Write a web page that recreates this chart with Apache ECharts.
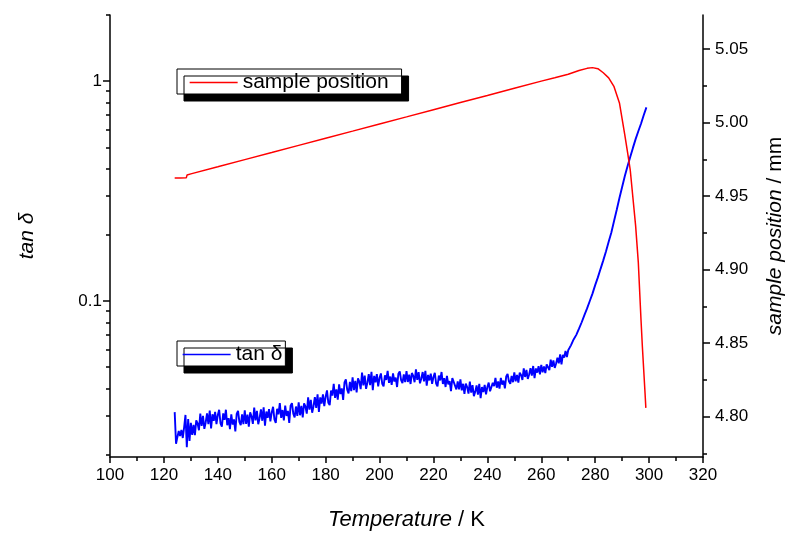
<!DOCTYPE html>
<html>
<head>
<meta charset="utf-8">
<script src="https://cdn.jsdelivr.net/npm/echarts@6/dist/echarts.min.js"></script>
<style>
html,body{margin:0;padding:0;background:#fff;}
#c{width:800px;height:534px;}
</style>
</head>
<body>
<div id="c"></div>
<script>
// ---- data ----
// tan delta (left log axis): [Temperature K, tan delta]
var tanDeltaPoints = [
[124,0.0312],[124.5,0.0224],[125,0.0240],[125.5,0.0256],[126,0.0243],[126.5,0.0259],[127,0.0238],[127.5,0.0266],
[128,0.0303],[128.5,0.0216],[129,0.0290],[129.5,0.0231],
[130,0.0279],[130.5,0.0246],[131,0.0273],[131.5,0.0245],[132,0.0286],[132.5,0.0277],[133,0.0258],[133.5,0.0307],
[134,0.0270],[134.5,0.0300],[135,0.0262],[135.5,0.0280],[136,0.0308],[136.5,0.0275],[137,0.0317],[137.5,0.0263],
[138,0.0305],[138.5,0.0285],[139,0.0313],[139.5,0.0275],[140,0.0303],[140.5,0.0320],[141,0.0277],[141.5,0.0268],
[142,0.0308],[142.5,0.0288],[143,0.0320],[143.5,0.0272],[144,0.0293],[144.5,0.0261],[145,0.0305],[145.5,0.0274],
[146,0.0289],[146.5,0.0255],[147,0.0306],[147.5,0.0316],[148,0.0282],[148.5,0.0272],[149,0.0305],[149.5,0.0275],
[150,0.0318],[150.5,0.0276],[151,0.0304],[151.5,0.0268],[152,0.0311],[152.5,0.0299],[153,0.0276],[153.5,0.0327],
[154,0.0286],[154.5,0.0316],[155,0.0275],[155.5,0.0293],[156,0.0321],[156.5,0.0285],[157,0.0328],[157.5,0.0271],
[158,0.0314],[158.5,0.0294],[159,0.0322],[159.5,0.0283],[160,0.0311],[160.5,0.0330],[161,0.0289],[161.5,0.0279],
[162,0.0323],[162.5,0.0305],[163,0.0343],[163.5,0.0294],[164,0.0319],[164.5,0.0286],[165,0.0334],[165.5,0.0300],
[166,0.0316],[166.5,0.0279],[167,0.0334],[167.5,0.0343],[168,0.0307],[168.5,0.0295],[169,0.0331],[169.5,0.0300],
[170,0.0346],[170.5,0.0302],[171,0.0333],[171.5,0.0295],[172,0.0342],[172.5,0.0331],[173,0.0307],[173.5,0.0364],
[174,0.0320],[174.5,0.0355],[175,0.0310],[175.5,0.0332],[176,0.0365],[176.5,0.0326],[177,0.0376],[177.5,0.0313],
[178,0.0364],[178.5,0.0341],[179,0.0376],[179.5,0.0332],[180,0.0367],[180.5,0.0392],[181,0.0344],[181.5,0.0336],
[182,0.0391],[182.5,0.0371],[183,0.0420],[183.5,0.0362],[184,0.0396],[184.5,0.0356],[185,0.0417],[185.5,0.0377],
[186,0.0400],[186.5,0.0355],[187,0.0426],[187.5,0.0440],[188,0.0395],[188.5,0.0380],[189,0.0428],[189.5,0.0389],
[190,0.0449],[190.5,0.0393],[191,0.0433],[191.5,0.0384],[192,0.0445],[192.5,0.0430],[193,0.0397],[193.5,0.0472],
[194,0.0413],[194.5,0.0457],[195,0.0398],[195.5,0.0425],[196,0.0465],[196.5,0.0414],[197,0.0476],[197.5,0.0393],
[198,0.0456],[198.5,0.0426],[199,0.0465],[199.5,0.0409],
[200,0.0447],[200.5,0.0468],[201,0.0420],[201.5,0.0409],[202,0.0459],[202.5,0.0437],[203,0.0481],[203.5,0.0424],
[204,0.0453],[204.5,0.0415],[205,0.0468],[205.5,0.0430],[206,0.0448],[206.5,0.0406],[207,0.0467],[207.5,0.0478],
[208,0.0436],[208.5,0.0423],[209,0.0463],[209.5,0.0427],[210,0.0479],[210.5,0.0428],[211,0.0462],[211.5,0.0419],
[212,0.0470],[212.5,0.0456],[213,0.0427],[213.5,0.0488],[214,0.0438],[214.5,0.0474],[215,0.0422],[215.5,0.0444],
[216,0.0475],[216.5,0.0431],[217,0.0481],[217.5,0.0412],[218,0.0461],[218.5,0.0435],[219,0.0467],[219.5,0.0420],
[220,0.0451],[220.5,0.0471],[221,0.0421],[221.5,0.0409],[222,0.0458],[222.5,0.0435],[223,0.0475],[223.5,0.0419],
[224,0.0445],[224.5,0.0406],[225,0.0456],[225.5,0.0417],[226,0.0432],[226.5,0.0389],[227,0.0446],[227.5,0.0455],
[228,0.0412],[228.5,0.0396],[229,0.0431],[229.5,0.0396],[230,0.0440],[230.5,0.0392],[231,0.0420],[231.5,0.0378],
[232,0.0421],[232.5,0.0406],[233,0.0379],[233.5,0.0430],[234,0.0383],[234.5,0.0414],[235,0.0369],[235.5,0.0386],
[236,0.0413],[236.5,0.0375],[237,0.0420],[237.5,0.0361],[238,0.0406],[238.5,0.0385],[239,0.0415],[239.5,0.0376],
[240,0.0406],[240.5,0.0425],[241,0.0388],[241.5,0.0381],[242,0.0424],[242.5,0.0410],[243,0.0447],[243.5,0.0403],
[244,0.0430],[244.5,0.0399],[245,0.0447],[245.5,0.0416],[246,0.0434],[246.5,0.0400],[247,0.0454],[247.5,0.0466],
[248,0.0431],[248.5,0.0420],[249,0.0456],[249.5,0.0427],[250,0.0473],[250.5,0.0431],[251,0.0461],[251.5,0.0425],
[252,0.0472],[252.5,0.0461],[253,0.0437],[253.5,0.0494],[254,0.0451],[254.5,0.0486],[255,0.0442],[255.5,0.0463],
[256,0.0495],[256.5,0.0457],[257,0.0506],[257.5,0.0445],[258,0.0493],[258.5,0.0472],[259,0.0505],[259.5,0.0463],
[260,0.0512],[260.5,0.0474],[261,0.0503],[261.5,0.0470],[262,0.0515],[262.5,0.0506],[263,0.0485],[263.5,0.0541],
[264,0.0501],[264.5,0.0536],[265,0.0496],[265.5,0.0519],[266,0.0552],[266.5,0.0520],[267,0.0571],[267.5,0.0515],
[268,0.0568],[268.5,0.0553],[269,0.0593],[269.5,0.0556],[270,0.0597],[270.5,0.0612],[271,0.0628],[271.5,0.0622],
[272,0.0668],[272.5,0.0665],[273,0.0701],[273.5,0.0712],[274,0.0748],[275,0.0800],[276,0.0862],[277,0.0925],
[278,0.1000],[279,0.108],[280,0.118],[281,0.128],[282,0.140],[283,0.153],[284,0.168],[285,0.186],[286,0.205],
[287,0.231],[288,0.260],[289,0.294],[290,0.330],[291,0.370],[292,0.410],[293,0.452],[294,0.497],[295,0.545],
[296,0.592],[297,0.640],[298,0.700],[299,0.760]
];

// sample position (right axis, mm)
var positionTemps  = [124, 126, 128.3, 128.6, 130, 140, 150, 160, 170, 180, 190, 200, 210, 220, 230, 240, 250, 260, 265, 270, 274, 277, 279, 281, 283, 285, 287, 289, 291, 292, 293, 294, 295, 296, 297, 297.5, 298, 298.5, 298.8];
var positionValues = [4.9624, 4.9624, 4.9625, 4.9645, 4.9652, 4.9700, 4.9749, 4.9797, 4.9846, 4.9895, 4.9943, 4.9992, 5.0040, 5.0089, 5.0138, 5.0186, 5.0235, 5.0283, 5.0306, 5.0330, 5.0355, 5.0370, 5.0375, 5.0368, 5.0340, 5.0305, 5.0245, 5.0135, 4.9915, 4.9800, 4.9680, 4.9490, 4.9300, 4.9050, 4.8660, 4.8480, 4.8320, 4.8160, 4.8060];

// tick values
var tanMajorTicks = [0.1, 1];
var tanMinorTicks = [0.02,0.03,0.04,0.05,0.06,0.07,0.08,0.09,0.2,0.3,0.4,0.5,0.6,0.7,0.8,0.9,2];
var posMajorTicks = [4.80, 4.85, 4.90, 4.95, 5.00, 5.05];
var posMinorTicks = [4.775, 4.825, 4.875, 4.925, 4.975, 5.025, 5.075];

var positionPoints = positionTemps.map(function(t, i){ return [t, positionValues[i]]; });

var FONT = '"Liberation Sans", Arial, sans-serif';
var chart = echarts.init(document.getElementById('c'), null, {renderer: 'canvas'});

var tanMin = 0.0195, tanMax = 2.0;
var posMin = 4.7726, posMax = 5.0733;

var axisLine = {show: true, lineStyle: {color: '#000', width: 1.5}};

function legendBox(name, top, padding, color) {
  return {
    data: [name],
    left: 177, top: top,
    orient: 'horizontal',
    selectedMode: false,
    itemWidth: 48, itemHeight: 14,
    padding: padding,
    backgroundColor: '#fff',
    borderColor: '#000', borderWidth: 1, borderRadius: 0,
    shadowColor: '#000', shadowBlur: 0, shadowOffsetX: 7, shadowOffsetY: 7,
    itemStyle: {opacity: 0, borderWidth: 0},
    lineStyle: {color: color, width: 1.3, opacity: 1},
    textStyle: {fontSize: 21, color: '#000', fontFamily: FONT}
  };
}

chart.setOption({
  animation: false,
  backgroundColor: '#fff',
  textStyle: {fontFamily: FONT},
  grid: {left: 110, right: 97, top: 15, bottom: 77, containLabel: false, outerBoundsMode: 'none'},
  legend: [
    legendBox('sample position', 69, [3, 13, 1, 12], '#ff0000'),
    legendBox('tan δ', 341, [3, 3, 1, 5], '#0000ff')
  ],
  xAxis: {
    type: 'value', min: 100, max: 320, interval: 20,
    axisLine: axisLine,
    axisTick: {show: true, length: 6, lineStyle: {color: '#000', width: 1.5}},
    minorTick: {show: true, splitNumber: 2, length: 4, lineStyle: {color: '#000', width: 1.5}},
    splitLine: {show: false},
    axisLabel: {fontSize: 17, color: '#000', margin: 10, fontFamily: FONT},
    name: '{i|Temperature} / K',
    nameLocation: 'middle', nameGap: 52,
    nameTextStyle: {fontSize: 22, color: '#000', fontFamily: FONT,
      rich: {i: {fontSize: 22, fontStyle: 'italic', color: '#000', fontFamily: FONT}}}
  },
  yAxis: [
    {
      type: 'log', logBase: 10, min: tanMin, max: tanMax, position: 'left',
      axisLine: axisLine,
      axisTick: {show: true, length: 7, customValues: tanMajorTicks, lineStyle: {color: '#000', width: 1.5}},
      axisLabel: {show: true, customValues: tanMajorTicks, fontSize: 17, color: '#000', margin: 8, fontFamily: FONT,
        formatter: function(v){ return String(+v.toPrecision(3)); }},
      splitLine: {show: false},
      name: 'tan δ', nameLocation: 'middle', nameGap: 72, nameRotate: 90,
      nameTextStyle: {fontSize: 21, fontStyle: 'italic', color: '#000', fontFamily: FONT}
    },
    {
      type: 'log', logBase: 10, min: tanMin, max: tanMax, position: 'left',
      axisLine: {show: false},
      axisTick: {show: true, length: 4, customValues: tanMinorTicks, lineStyle: {color: '#000', width: 1.5}},
      axisLabel: {show: false},
      splitLine: {show: false}
    },
    {
      type: 'value', min: posMin, max: posMax, position: 'right',
      axisLine: axisLine,
      axisTick: {show: true, length: 7, customValues: posMajorTicks, lineStyle: {color: '#000', width: 1.5}},
      axisLabel: {show: true, customValues: posMajorTicks, fontSize: 17, color: '#000', margin: 12, fontFamily: FONT,
        formatter: function(v){ return v.toFixed(2); }},
      splitLine: {show: false},
      name: '{i|sample position} / mm', nameLocation: 'middle', nameGap: 62, nameRotate: 90,
      nameTextStyle: {fontSize: 21, color: '#000', fontFamily: FONT,
        rich: {i: {fontSize: 21, fontStyle: 'italic', color: '#000', fontFamily: FONT}}}
    },
    {
      type: 'value', min: posMin, max: posMax, position: 'right',
      axisLine: {show: false},
      axisTick: {show: true, length: 4, customValues: posMinorTicks, lineStyle: {color: '#000', width: 1.5}},
      axisLabel: {show: false},
      splitLine: {show: false}
    }
  ],
  series: [
    {
      name: 'tan δ', type: 'line', yAxisIndex: 0,
      data: tanDeltaPoints, symbol: 'none', showSymbol: false,
      lineStyle: {color: '#0000ff', width: 1.9},
      itemStyle: {color: '#0000ff'}
    },
    {
      name: 'sample position', type: 'line', yAxisIndex: 2,
      data: positionPoints, symbol: 'none', showSymbol: false, smooth: false,
      lineStyle: {color: '#ff0000', width: 1.5},
      itemStyle: {color: '#ff0000'}
    }
  ]
});
</script>
</body>
</html>
